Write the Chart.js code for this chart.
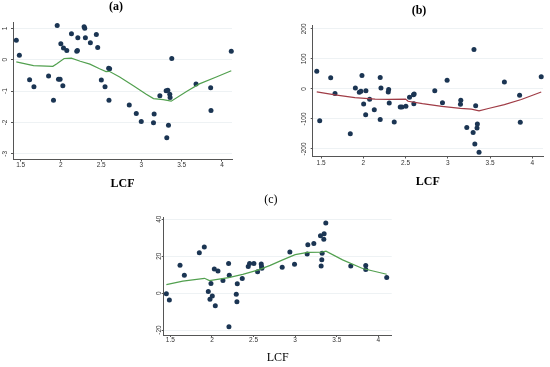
<!DOCTYPE html>
<html>
<head>
<meta charset="utf-8">
<script src="https://cdn.jsdelivr.net/npm/chart.js@4.4.1/dist/chart.umd.min.js"></script>
<style>
  html, body { margin: 0; padding: 0; background: #fff; }
  #wrap { position: relative; width: 550px; height: 367px; overflow: hidden; background: #fff; }
  canvas { position: absolute; }
</style>
</head>
<body>
<div id="wrap">
  <canvas id="chartA" width="240" height="192" style="left:0;top:0"></canvas>
  <canvas id="chartB" width="255" height="190" style="left:295px;top:0"></canvas>
  <canvas id="chartC" width="250" height="177" style="left:150px;top:190px"></canvas>
</div>
<script>
// shared x ticks (LCF)
const xTicks = [1.5, 2, 2.5, 3, 3.5, 4];

// panel (a)
const lcfA = [1.446, 1.484, 1.611, 1.665, 1.847, 1.908, 1.954, 1.970, 1.990, 1.999, 2.024, 2.032, 2.073, 2.131, 2.197,
  2.205, 2.210, 2.288, 2.296, 2.304, 2.366, 2.440, 2.457, 2.502, 2.548, 2.593, 2.605, 2.597, 2.849, 2.936,
  2.998, 3.150, 3.158, 3.229, 3.307, 3.328, 3.315, 3.336, 3.352, 3.356, 3.377, 3.678, 3.860, 3.864, 4.116];
const valsA = [0.62, 0.14, -0.64, -0.86, -0.52, -1.29, 1.09, -0.62, -0.62, 0.51, -0.83, 0.37, 0.29, 0.83, 0.27,
  0.29, 0.70, 1.05, 1.00, 0.70, 0.54, 0.80, 0.39, -0.65, -0.86, -0.27, -0.29, -1.29, -1.44, -1.71,
  -1.97, -2.01, -1.73, -1.15, -0.99, -0.97, -2.49, -2.09, -1.10, -1.20, 0.04, -0.77, -0.89, -1.62, 0.27];
const fitXA = [1.446, 1.66, 1.9, 1.95, 2.04, 2.13, 2.24, 2.36, 2.48, 2.56, 2.60, 2.73, 2.90, 3.06, 3.15, 3.27, 3.37, 3.56, 3.72, 3.93, 4.116];
const fitYA = [-0.07, -0.19, -0.21, -0.13, 0.04, 0.05, -0.05, -0.14, -0.29, -0.38, -0.37, -0.55, -0.83, -1.10, -1.24, -1.27, -1.32, -1.01, -0.77, -0.55, -0.35];
const yTicksA = [1, 0, -1, -2, -3];

// panel (b)
const lcfB = [1.449, 1.484, 1.614, 1.665, 1.846, 1.906, 1.953, 1.972, 1.984, 2.004, 2.028, 2.031, 2.075, 2.130, 2.200,
  2.200, 2.209, 2.295, 2.300, 2.307, 2.366, 2.437, 2.457, 2.504, 2.547, 2.594, 2.602, 2.598, 2.846, 2.937,
  2.992, 3.150, 3.154, 3.225, 3.300, 3.310, 3.320, 3.330, 3.346, 3.350, 3.370, 3.670, 3.850, 3.858, 4.106];
const valsB = [59, -106, 37, -15, -149, 3, -11, -8, 45, -50, -86, -6, -34, -69, -102,
  38, 3, -10, -2, -47, -110, -60, -60, -58, -28, -19, -17, -49, -6, -46,
  29, -51, -38, -128, -145, 131, -183, -56, -130, -117, -211, 23, -21, -111, 41];
const fitXB = [1.449, 1.665, 1.90, 2.14, 2.30, 2.50, 2.53, 2.70, 2.93, 3.15, 3.28, 3.37, 3.48, 3.67, 3.87, 4.106];
const fitYB = [-10, -20, -29, -34, -35, -34, -41, -49, -58, -65, -67, -73, -65, -52, -35, -10];
const yTicksB = [200, 100, 0, -100, -200];

// panel (c)
const lcfC = [1.452, 1.488, 1.616, 1.668, 1.848, 1.908, 1.956, 1.976, 1.988, 2.004, 2.028, 2.040, 2.072, 2.132, 2.200,
  2.204, 2.208, 2.292, 2.300, 2.304, 2.364, 2.436, 2.452, 2.504, 2.548, 2.592, 2.596, 2.600, 2.844, 2.936,
  2.992, 3.144, 3.152, 3.224, 3.304, 3.312, 3.320, 3.324, 3.344, 3.348, 3.368, 3.668, 3.848, 3.848, 4.100];
const valsC = [-0.4, -3.8, 15.1, 9.7, 21.9, 25.0, 0.9, -3.4, 5.2, -1.6, 13.1, -6.8, 12.0, 6.8, 16.0,
  -18.3, 9.7, -0.7, -4.7, 5.0, 7.9, 14.4, 16.0, 16.0, 11.5, 15.8, 14.4, 13.5, 14.0, 22.3,
  15.6, 21.2, 26.2, 26.8, 31.1, 14.7, 18.0, 21.6, 29.2, 32.1, 37.9, 14.7, 14.9, 12.8, 8.4];
const fitXC = [1.452, 1.65, 1.91, 1.97, 2.2, 2.37, 2.55, 2.70, 2.85, 3.0, 3.15, 3.31, 3.37, 3.57, 3.81, 4.1];
const fitYC = [4.6, 6.5, 8.0, 6.8, 8.4, 10.1, 12.4, 15.0, 18.0, 20.8, 22.0, 22.1, 22.7, 18.0, 13.3, 10.2];
const yTicksC = [40, 20, 0, -20];

const navy = '#1b3553';
const axisColor = '#555';
const gridColor = '#eef2f4';
const tickFont = { family: '"Liberation Sans", Arial, sans-serif', size: 6.5, lineHeight: 1 };
const serif = '"Liberation Serif", "Times New Roman", serif';

function makePanel(id, p) {
    const ctx = document.getElementById(id).getContext('2d');
    return new Chart(ctx, {
        type: 'scatter',
        data: {
            datasets: [{
                data: p.xs.map((x, i) => ({ x: x, y: p.ys[i] })),
                pointRadius: 2.5,
                pointBackgroundColor: navy,
                pointBorderWidth: 0,
                showLine: false,
                clip: false,
                order: 2
            }, {
                data: p.fx.map((x, i) => ({ x: x, y: p.fy[i] })),
                showLine: true,
                borderColor: p.lineColor,
                borderWidth: 1.2,
                pointRadius: 0,
                tension: 0,
                fill: false,
                order: 1
            }]
        },
        options: {
            responsive: false,
            animation: false,
            events: [],
            layout: { padding: { left: 0, right: p.padRight, top: 0, bottom: 0 } },
            plugins: {
                legend: { display: false },
                tooltip: { enabled: false },
                title: {
                    display: true,
                    text: p.title,
                    color: '#000',
                    font: { family: serif, size: 12, weight: p.bold ? 'bold' : 'normal' },
                    padding: p.titlePad
                }
            },
            scales: {
                x: {
                    type: 'linear',
                    min: p.xMin,
                    max: p.xMax,
                    afterBuildTicks: (s) => { s.ticks = xTicks.map(v => ({ value: v })); },
                    afterFit: (s) => { s.height = p.xAxisH; },
                    grid: { drawOnChartArea: false, tickLength: 2, tickColor: axisColor },
                    border: { color: axisColor, width: 1 },
                    ticks: { font: tickFont, color: '#333', padding: p.xTickPad, maxRotation: 0, callback: (v) => String(v) },
                    title: {
                        display: true,
                        text: 'LCF',
                        color: '#000',
                        font: { family: serif, size: 12, weight: p.bold ? 'bold' : 'normal' },
                        padding: { top: 0, bottom: p.lcfPad }
                    }
                },
                y: {
                    type: 'linear',
                    min: p.yMin,
                    max: p.yMax,
                    afterBuildTicks: (s) => { s.ticks = p.yTicks.map(v => ({ value: v })); },
                    afterFit: (s) => { s.width = p.yAxisW; },
                    grid: { color: gridColor, tickLength: 2, tickColor: axisColor },
                    border: { color: axisColor, width: 1 },
                    ticks: { font: tickFont, color: '#333', minRotation: 90, maxRotation: 90, crossAlign: 'center', padding: p.yTickPad, callback: (v) => String(v) }
                }
            }
        }
    });
}

makePanel('chartA', {
    xs: lcfA, ys: valsA, fx: fitXA, fy: fitYA, yTicks: yTicksA, lineColor: '#52a04f',
    title: '(a)', bold: true, titlePad: { top: 0, bottom: 8.3 },
    xMin: 1.405, xMax: 4.125, yMin: -3.18, yMax: 1.18,
    yAxisW: 13, xAxisH: 32.5, padRight: 8, lcfPad: 0.8, xTickPad: 0, yTickPad: 3
});

makePanel('chartB', {
    xs: lcfB, ys: valsB, fx: fitXB, fy: fitYB, yTicks: yTicksB, lineColor: '#a03c46',
    title: '(b)', bold: true, titlePad: { top: 3.8, bottom: 6.8 },
    xMin: 1.401, xMax: 4.127, yMin: -225, yMax: 213,
    yAxisW: 17.7, xAxisH: 33.5, padRight: 7, lcfPad: 1.1, xTickPad: 1, yTickPad: 0
});

makePanel('chartC', {
    xs: lcfC, ys: valsC, fx: fitXC, fy: fitYC, yTicks: yTicksC, lineColor: '#52a04f',
    title: '(c)', bold: false, titlePad: { top: 2.8, bottom: 9.8 },
    xMin: 1.42, xMax: 4.16, yMin: -22.7, yMax: 41.2,
    yAxisW: 13.7, xAxisH: 32, padRight: 8.3, lcfPad: 1.8, xTickPad: 0, yTickPad: -2.3
});
</script>
</body>
</html>
